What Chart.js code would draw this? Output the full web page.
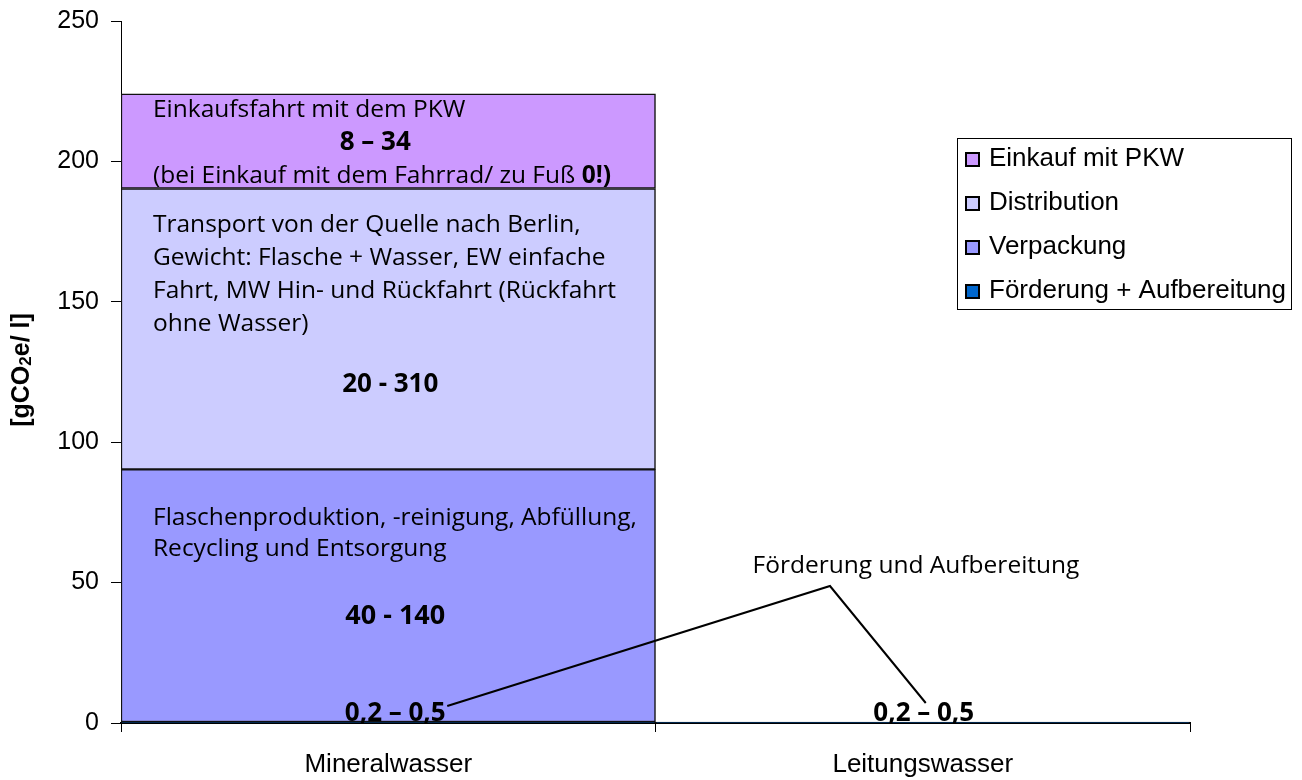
<!DOCTYPE html>
<html>
<head>
<meta charset="utf-8">
<script src="https://cdn.jsdelivr.net/npm/chart.js@4/dist/chart.umd.min.js"></script>
<style>
  html, body { margin: 0; padding: 0; background: #fff; }
  #wrap { width: 1302px; height: 780px; position: relative; }
</style>
</head>
<body>
<div id="wrap"><canvas id="c" width="1302" height="780"></canvas></div>
<script>
// Categories and stacked emissions per litre (gCO2e/l)
const categories = ['Mineralwasser', 'Leitungswasser'];
const foerderung   = [0.35, 0.35];
const verpackung   = [90, null];
const distribution = [100, null];
const einkauf      = [33.7, null];
const yTicks = [0, 50, 100, 150, 200, 250];

const seriesLabels = ['Förderung + Aufbereitung', 'Verpackung', 'Distribution', 'Einkauf mit PKW'];
const seriesColors = ['#0066CC', '#9999FF', '#CCCCFF', '#CC99FF'];

const SANS = '"Liberation Sans", Arial, sans-serif';
const TXT = '"Open Sans", "Noto Sans", sans-serif';

// Axis title with subscript, annotations inside the bar, callout and legend box
const overlay = {
  id: 'overlay',
  afterDraw(chart) {
    const ctx = chart.ctx;
    const x = chart.scales.x, y = chart.scales.y;
    const area = chart.chartArea;
    ctx.save();

    // y-axis title: [gCO2e/ l]
    ctx.save();
    ctx.translate(22, 370);
    ctx.rotate(-Math.PI / 2);
    ctx.fillStyle = '#000';
    ctx.textBaseline = 'middle';
    const big = 'bold 25px ' + SANS, small = 'bold 17px ' + SANS;
    ctx.font = big; const w1 = ctx.measureText('[gCO').width;
    ctx.font = small; const w2 = ctx.measureText('2').width;
    ctx.font = big; const w3 = ctx.measureText('e/ l]').width;
    let sx = -(w1 + w2 + w3) / 2;
    ctx.textAlign = 'left';
    ctx.font = big; ctx.fillText('[gCO', sx, 0); sx += w1;
    ctx.font = small; ctx.fillText('2', sx, 4); sx += w2;
    ctx.font = big; ctx.fillText('e/ l]', sx, 0);
    ctx.restore();

    // texts inside the Mineralwasser bar
    const left = area.left + 32;
    const cx0 = x.getPixelForValue(0);
    const cx1 = x.getPixelForValue(1);
    const topEin = y.getPixelForValue(foerderung[0] + verpackung[0] + distribution[0] + einkauf[0]);
    const topDist = y.getPixelForValue(foerderung[0] + verpackung[0] + distribution[0]);
    const topVerp = y.getPixelForValue(foerderung[0] + verpackung[0]);
    const base = y.getPixelForValue(0);
    const reg = '24.5px ' + TXT, bold = 'bold 26px ' + TXT;
    ctx.fillStyle = '#000';
    ctx.textBaseline = 'middle';
    ctx.textAlign = 'left';
    ctx.font = reg;
    ctx.fillText('Einkaufsfahrt mit dem PKW', left, topEin + 16);
    const t1 = '(bei Einkauf mit dem Fahrrad/ zu Fuß ';
    ctx.fillText(t1, left, topEin + 82);
    const tw = ctx.measureText(t1).width;
    ctx.font = 'bold 24.5px ' + TXT;
    ctx.fillText('0!)', left + tw, topEin + 82);
    ctx.textAlign = 'center';
    ctx.font = bold;
    ctx.fillText('8 – 34', cx0 - 13, topEin + 49);

    ctx.textAlign = 'left';
    ctx.font = reg;
    ['Transport von der Quelle nach Berlin,',
     'Gewicht: Flasche + Wasser, EW einfache',
     'Fahrt, MW Hin- und Rückfahrt (Rückfahrt',
     'ohne Wasser)'].forEach((s, i) => ctx.fillText(s, left, topDist + 37 + i * 33));
    ctx.textAlign = 'center';
    ctx.font = bold;
    ctx.fillText('20 - 310', cx0 + 2, topDist + 196);

    ctx.textAlign = 'left';
    ctx.font = reg;
    ctx.fillText('Flaschenproduktion, -reinigung, Abfüllung,', left, topVerp + 49);
    ctx.fillText('Recycling und Entsorgung', left, topVerp + 80);
    ctx.textAlign = 'center';
    ctx.font = 'bold 27px ' + TXT;
    ctx.fillText('40 - 140', cx0 + 7, topVerp + 147);

    // values of the thin bottom segment
    ctx.font = bold;
    ctx.fillText('0,2 – 0,5', cx0 + 7, base - 9);
    ctx.fillText('0,2 – 0,5', cx1 + 1, base - 9);

    // callout
    ctx.font = reg;
    ctx.fillText('Förderung und Aufbereitung', 916, base - 157);
    ctx.strokeStyle = '#000';
    ctx.lineWidth = 2;
    ctx.beginPath();
    ctx.moveTo(cx0 + 59, base - 17);
    ctx.lineTo(830, base - 137);
    ctx.lineTo(cx1 + 3, base - 20);
    ctx.stroke();

    // legend box
    const lx = 957, ly = 138, lw = 334, lh = 171;
    ctx.lineWidth = 1;
    ctx.strokeStyle = '#000';
    ctx.fillStyle = '#fff';
    ctx.fillRect(lx, ly, lw, lh);
    ctx.strokeRect(lx + 0.5, ly + 0.5, lw, lh);
    ctx.font = '26px ' + SANS;
    ctx.textAlign = 'left';
    ctx.textBaseline = 'middle';
    const order = [3, 2, 1, 0];
    order.forEach((di, i) => {
      const ds = chart.data.datasets[di];
      const yy = ly + 21 + i * 44;
      ctx.fillStyle = ds.backgroundColor;
      ctx.fillRect(lx + 9, yy - 6, 13, 13);
      ctx.lineWidth = 2;
      ctx.strokeStyle = '#000';
      ctx.strokeRect(lx + 9, yy - 6, 13, 13);
      ctx.fillStyle = '#000';
      ctx.fillText(ds.label, lx + 32, yy);
    });
    ctx.restore();
  }
};

const values = [foerderung, verpackung, distribution, einkauf];
new Chart(document.getElementById('c'), {
  type: 'bar',
  data: {
    labels: categories,
    datasets: values.map((v, i) => ({
      label: seriesLabels[i],
      data: v,
      backgroundColor: seriesColors[i],
      borderColor: '#111',
      borderWidth: 1.5,
      borderSkipped: false,
      barPercentage: 1,
      categoryPercentage: 1
    }))
  },
  options: {
    responsive: false,
    animation: false,
    layout: { padding: { top: 21, right: 112, left: 0, bottom: 0 } },
    plugins: { legend: { display: false }, tooltip: { enabled: false } },
    scales: {
      x: {
        stacked: true,
        border: { color: '#000', width: 2 },
        grid: { offset: true, drawOnChartArea: false, color: '#000', tickLength: 9 },
        ticks: { color: '#000', font: { family: SANS, size: 26 }, padding: 17 },
        afterFit(s) { s.height = 57; s.paddingLeft = 0; s.paddingRight = 0; }
      },
      y: {
        stacked: true,
        min: 0, max: 250,
        afterBuildTicks(s) { s.ticks = yTicks.map(v => ({ value: v })); },
        border: { color: '#000', width: 1 },
        grid: { drawOnChartArea: false, color: '#000', tickLength: 10 },
        ticks: { color: '#000', font: { family: SANS, size: 25 }, padding: 12 },
        afterFit(s) { s.width = 121; s.paddingTop = 0; s.paddingBottom = 0; }
      }
    }
  },
  plugins: [overlay]
});
</script>
</body>
</html>
